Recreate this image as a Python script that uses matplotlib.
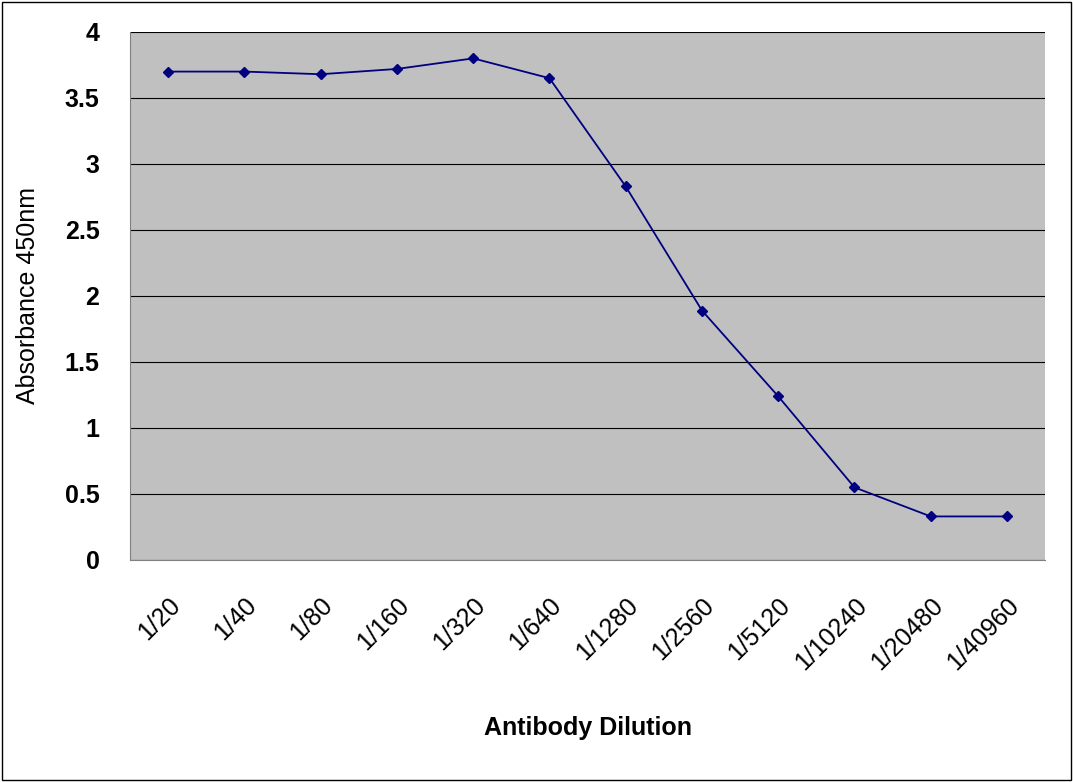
import matplotlib
matplotlib.use('Agg')
import matplotlib.pyplot as plt
from matplotlib.patches import Rectangle

plt.rcParams.update({'font.family': 'Liberation Sans', 'font.size': 18,
                     'font.weight': 'bold'})

dilutions = ['1/20', '1/40', '1/80', '1/160', '1/320', '1/640', '1/1280',
             '1/2560', '1/5120', '1/10240', '1/20480', '1/40960']
absorbance = [3.70, 3.70, 3.68, 3.72, 3.80, 3.65, 2.83, 1.89, 1.24, 0.55, 0.33, 0.33]

fig = plt.figure(figsize=(10.73, 7.82), dpi=100)
fig.patches.append(Rectangle((0.002, 0.002), 0.996, 0.996, transform=fig.transFigure,
                             fill=False, edgecolor='black', linewidth=1))
ax = fig.add_axes([0.1212, 0.2839, 0.8528, 0.6752])
ax.set_facecolor('#c0c0c0')

x = list(range(len(dilutions)))
ax.plot(x, absorbance, color='#000080', linewidth=1.3, marker='D', markersize=5)

ax.set_xlim(-0.5, len(dilutions) - 0.5)
ax.set_ylim(0, 4)
ax.set_yticks([0, 0.5, 1, 1.5, 2, 2.5, 3, 3.5, 4])
ax.set_yticklabels(['0', '0.5', '1', '1.5', '2', '2.5', '3', '3.5', '4'])
ax.yaxis.grid(True, color='black', linewidth=0.8)
ax.set_axisbelow(True)
ax.set_xticks(x)
ax.set_xticklabels(dilutions, rotation=45, ha='right', rotation_mode='anchor',
                   fontweight='normal')
ax.tick_params(axis='x', length=0, pad=24)
ax.tick_params(axis='y', length=0, pad=22)
for s in ['top', 'right']:
    ax.spines[s].set_visible(False)
ax.spines['left'].set_color('#808080')
ax.spines['bottom'].set_color('#808080')

ax.set_xlabel('Antibody Dilution', labelpad=30, fontweight='bold')
ax.set_ylabel('Absorbance 450nm', labelpad=18, fontweight='normal')

fig.savefig('out.png', dpi=100)
